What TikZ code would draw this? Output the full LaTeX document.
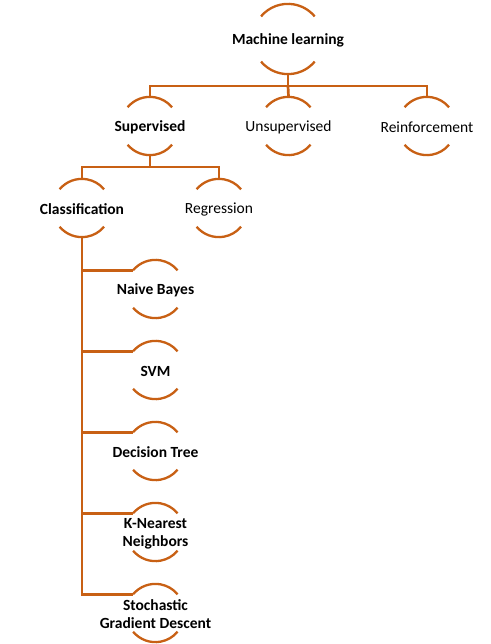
\documentclass[tikz,border=0pt]{standalone}
\usepackage{fontspec}
\setmainfont{Carlito}
\usetikzlibrary{calc}
\definecolor{accent}{RGB}{200,96,20}
\begin{document}
\begin{tikzpicture}[x=1pt,y=-1pt,
  ring/.style={circle,inner sep=0pt,minimum size=58pt},
  bigring/.style={circle,inner sep=0pt,minimum size=70pt},
  lbl/.style={font=\fontsize{15.5}{18}\selectfont,align=center,inner sep=0pt,text=black,yshift=-1.5pt},
  blbl/.style={lbl,font=\fontsize{15.5}{18}\selectfont\bfseries},
  conn/.style={draw=accent,line width=2.7pt},
  arcline/.style={draw=accent,line width=2.3pt}]
\useasboundingbox[fill=white] (0,0) rectangle (490,644);
% nodes
\node[bigring] (ml) at (288,39) {};
\node[ring] (sup) at (150,126) {};
\node[ring] (uns) at (288.5,126) {};
\node[ring] (rei) at (427,126) {};
\node[ring] (cls) at (82,208) {};
\node[ring] (reg) at (219,208) {};
\node[ring] (nb) at (155.5,289) {};
\node[ring] (svm) at (155.5,370) {};
\node[ring] (dt) at (155.5,451) {};
\node[ring] (knn) at (155.5,532) {};
\node[ring] (sgd) at (155.5,613) {};
% labels
\node[blbl] (mlt) at (ml) {Machine learning};
\node[blbl] (supt) at (sup) {Supervised};
\node[lbl] (unst) at (uns) {Unsupervised};
\node[lbl] (reit) at (rei) {Reinforcement};
\node[blbl] (clst) at (cls) {Classification};
\node[lbl] (regt) at (reg) {Regression};
\node[blbl] (nbt) at (nb) {Naive Bayes};
\node[blbl] (svmt) at (svm) {SVM};
\node[blbl] (dtt) at (dt) {Decision Tree};
\node[blbl] (knnt) at (knn) {K-Nearest\\Neighbors};
\node[blbl] (sgdt) at (sgd) {Stochastic\\Gradient Descent};
% arcs
\draw[arcline] (ml.140) arc[start angle=140,end angle=40,radius=35pt];
\draw[arcline] (ml.220) arc[start angle=220,end angle=320,radius=35pt];
\foreach \n in {sup,uns,rei,cls,reg,nb,svm,dt,knn,sgd}{
  \draw[arcline] (\n.140) arc[start angle=140,end angle=40,radius=29pt];
  \draw[arcline] (\n.220) arc[start angle=220,end angle=320,radius=29pt];
}
% connectors
\coordinate (b1) at (288,86);
\coordinate (b2) at (150,167);
\draw[conn] (ml.south) -- (b1);
\draw[conn] (sup.north) |- (b1) -| (rei.north);
\draw[conn] (uns.north) -- (b1);
\draw[conn] (sup.south) -- (b2);
\draw[conn] (cls.north) |- (b2) -| (reg.north);
\draw[conn] (cls.south) |- (sgd.140);
\draw[conn] (cls.south |- nb.140) -- (nb.140);
\draw[conn] (cls.south |- svm.140) -- (svm.140);
\draw[conn] (cls.south |- dt.140) -- (dt.140);
\draw[conn] (cls.south |- knn.140) -- (knn.140);
\end{tikzpicture}
\end{document}
